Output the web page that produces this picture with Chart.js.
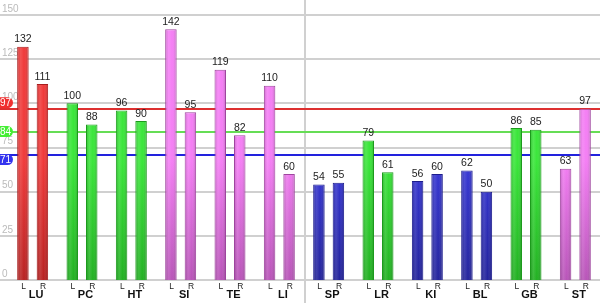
<!DOCTYPE html>
<html>
<head>
<meta charset="utf-8">
<script src="https://cdn.jsdelivr.net/npm/chart.js@4"></script>
<style>
	body { margin: 0; background: #fff; }
	canvas { display: block; }
</style>
</head>
<body>
<canvas id="meridian-chart" width="600" height="303"></canvas>
<script>
const groups = ['LU', 'PC', 'HT', 'SI', 'TE', 'LI', 'SP', 'LR', 'KI', 'BL', 'GB', 'ST'];
const leftValues = [132, 100, 96, 142, 119, 110, 54, 79, 56, 62, 86, 63];
const rightValues = [111, 88, 90, 95, 82, 60, 55, 61, 60, 50, 85, 97];
const groupColors = ['red', 'green', 'green', 'pink', 'pink', 'pink', 'blue', 'green', 'blue', 'blue', 'green', 'pink'];
const yTicks = [0, 25, 50, 75, 100, 125, 150];
const refValues = [97, 84, 71];
const refNames = ['red', 'green', 'blue'];

const palette = {
	red: { top: '#f03a3a', bottom: '#b82222', border: '#a81c1c', line: '#dd3030', badge: '#f03030' },
	green: { top: '#3ae63a', bottom: '#22b022', border: '#1d9a1d', line: '#66dd55', badge: '#44ee33' },
	pink: { top: '#f47ef4', bottom: '#b855b8', border: '#9e459e', line: '#e070e0', badge: '#ee66ee' },
	blue: { top: '#3838d8', bottom: '#24249c', border: '#1c1c8c', line: '#2222dd', badge: '#3333ee' }
};

const canvas = document.getElementById('meridian-chart');

function barFill(ctx) {
	const area = ctx.chart.chartArea;
	const c = palette[groupColors[ctx.dataIndex]];
	if (!area) return c.top;
	const g = ctx.chart.ctx.createLinearGradient(0, area.top, 0, area.bottom);
	g.addColorStop(0, c.top);
	g.addColorStop(0.55, c.top);
	g.addColorStop(1, c.bottom);
	return g;
}

function barBorder(ctx) {
	return palette[groupColors[ctx.dataIndex]].border;
}

// gridlines, y labels, divider and reference lines behind the bars
const backdrop = {
	id: 'backdrop',
	beforeDatasetsDraw(chart) {
		const ctx = chart.ctx;
		const y = chart.scales.y;
		const w = chart.width;
		ctx.save();
		ctx.strokeStyle = '#d0d0d0';
		ctx.lineWidth = 2;
		yTicks.forEach(v => {
			const py = Math.round(y.getPixelForValue(v));
			ctx.beginPath();
			ctx.moveTo(0, py);
			ctx.lineTo(w, py);
			ctx.stroke();
		});
		ctx.font = '10px "Liberation Sans", Arial, sans-serif';
		ctx.fillStyle = '#bbbbbb';
		ctx.textBaseline = 'bottom';
		ctx.textAlign = 'left';
		yTicks.forEach(v => {
			ctx.fillText(String(v), 2, y.getPixelForValue(v) - 1);
		});
		// divider
		ctx.beginPath();
		ctx.moveTo(305, 0);
		ctx.lineTo(305, chart.height);
		ctx.stroke();
		// reference lines
		refValues.forEach((v, i) => {
			const py = Math.round(y.getPixelForValue(v));
			ctx.strokeStyle = palette[refNames[i]].line;
			ctx.lineWidth = 2;
			ctx.beginPath();
			ctx.moveTo(0, py);
			ctx.lineTo(w, py);
			ctx.stroke();
		});
		ctx.restore();
	},
	afterDatasetsDraw(chart) {
		const ctx = chart.ctx;
		const y = chart.scales.y;
		ctx.save();
		// side shading on each bar
		chart.data.datasets.forEach((ds, di) => {
			chart.getDatasetMeta(di).data.forEach(bar => {
				const left = bar.x - bar.width / 2;
				const g = ctx.createLinearGradient(left, 0, left + bar.width, 0);
				g.addColorStop(0, 'rgba(0,0,0,0.18)');
				g.addColorStop(0.3, 'rgba(255,255,255,0.12)');
				g.addColorStop(0.6, 'rgba(255,255,255,0)');
				g.addColorStop(1, 'rgba(0,0,0,0.22)');
				ctx.fillStyle = g;
				ctx.fillRect(left + 1, bar.y + 1, bar.width - 2, bar.base - bar.y - 1);
			});
		});
		// value labels
		ctx.font = '10.5px "Liberation Sans", Arial, sans-serif';
		ctx.fillStyle = '#222';
		ctx.textAlign = 'center';
		ctx.textBaseline = 'bottom';
		chart.data.datasets.forEach((ds, di) => {
			chart.getDatasetMeta(di).data.forEach((bar, i) => {
				ctx.fillText(String(ds.data[i]), bar.x, bar.y - 2);
			});
		});
		// L / R under bars
		ctx.font = '8.5px "Liberation Sans", Arial, sans-serif';
		ctx.textBaseline = 'alphabetic';
		chart.data.datasets.forEach((ds, di) => {
			chart.getDatasetMeta(di).data.forEach(bar => {
				ctx.fillText(ds.label, bar.x + 0.7, 288.5);
			});
		});
		// group names
		ctx.font = 'bold 11px "Liberation Sans", Arial, sans-serif';
		ctx.fillStyle = '#111';
		groups.forEach((name, i) => {
			ctx.fillText(name, chart.scales.x.getPixelForValue(i) + 3.5, 298);
		});
		// badges on the reference lines
		const shifts = [-6, 0, 5];
		ctx.font = '10px "Liberation Sans", Arial, sans-serif';
		ctx.textBaseline = 'middle';
		refValues.forEach((v, i) => {
			const cy = y.getPixelForValue(v) + shifts[i];
			ctx.fillStyle = palette[refNames[i]].badge;
			ctx.beginPath();
			ctx.roundRect(-7, cy - 5.5, 20, 11, 5.5);
			ctx.fill();
			ctx.fillStyle = '#fff';
			ctx.textAlign = 'center';
			ctx.fillText(String(v), 5.5, cy + 0.5);
		});
		ctx.restore();
	}
};

const meridianChart = new Chart(canvas, {
	type: 'bar',
	data: {
		labels: groups,
		datasets: [
			{ label: 'L', data: leftValues, backgroundColor: barFill, borderColor: barBorder, borderWidth: 1 },
			{ label: 'R', data: rightValues, backgroundColor: barFill, borderColor: barBorder, borderWidth: 1 }
		]
	},
	options: {
		responsive: false,
		animation: false,
		categoryPercentage: 0.79,
		barPercentage: 0.59,
		layout: {
			padding: { left: 8, right: 0, top: 15, bottom: 23 }
		},
		scales: {
			x: { display: false },
			y: { display: false, min: 0, max: 150 }
		},
		plugins: {
			legend: { display: false },
			tooltip: { enabled: false }
		}
	},
	plugins: [backdrop]
});
</script>
</body>
</html>
